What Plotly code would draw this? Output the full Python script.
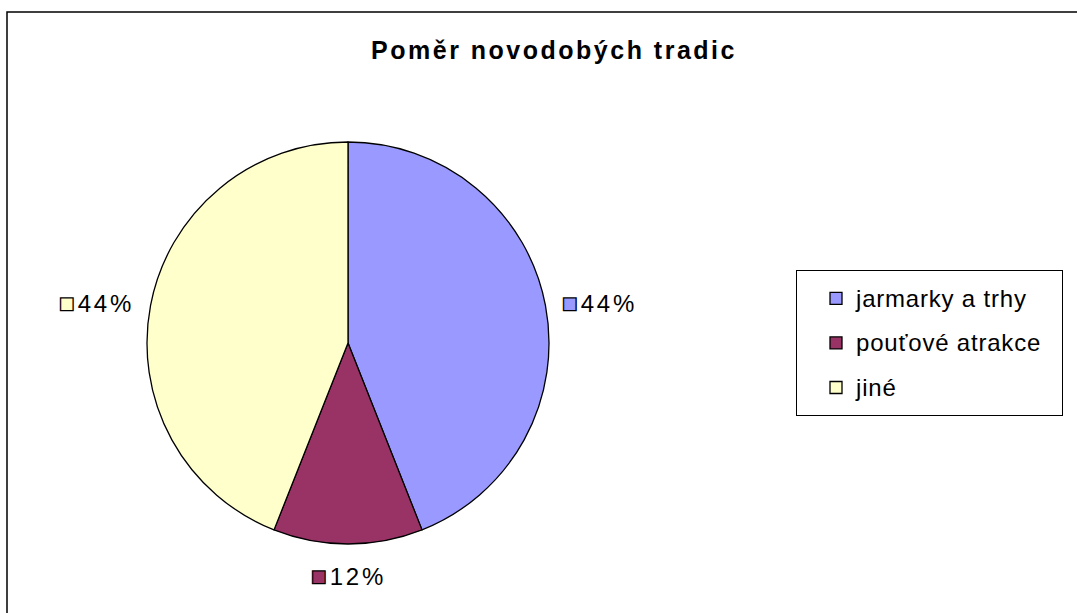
import math
import plotly.graph_objects as go

labels = ["jarmarky a trhy", "pouťové atrakce", "jiné"]
values = [11, 3, 11]
colors = ["#9999FF", "#993366", "#FFFFCC"]
title = "Poměr novodobých tradic"

W, H = 1077, 613
cx, cy, r = 348, 343, 201
FONT = "Liberation Sans, Arial"

legend_names = [f'<span style="font-size:24px;letter-spacing:0.8px;baseline-shift:4px">{n}\u00a0\u00a0</span>'
                for n in labels]

fig = go.Figure(go.Pie(
    labels=legend_names, values=values, sort=False, direction="clockwise", rotation=0,
    marker=dict(colors=colors, line=dict(color="black", width=1.3)),
    textinfo="none",
    domain=dict(x=[(cx - r) / W, (cx + r) / W], y=[1 - (cy + r) / H, 1 - (cy - r) / H]),
    hoverinfo="percent",
))

# percentage labels placed just outside each slice, at its mid-angle (derived from the values)
total = sum(values)
cum = 0
gap = 15
annotations = []
for v, c in zip(values, colors):
    theta = 2 * math.pi * (cum + v / 2) / total
    cum += v
    s, co = math.sin(theta), math.cos(theta)
    px = cx + (r + gap) * s
    py = cy - (r + gap) * co
    xanchor = "left" if s > 0.5 else ("right" if s < -0.5 else "center")
    yanchor = "top" if co < -0.5 else ("bottom" if co > 0.5 else "middle")
    pct = round(100 * v / total)
    txt = (f'<span style="fill:{c};stroke:black;stroke-width:1.3px;font-size:26px;letter-spacing:3px">■</span>'
           f'<span style="letter-spacing:2.8px">{pct}%</span>')
    annotations.append(dict(x=px / W, y=1 - py / H, xref="paper", yref="paper", text=txt,
                            showarrow=False, xanchor=xanchor, yanchor=yanchor,
                            font=dict(size=24, color="black", family=FONT)))

fig.update_layout(
    width=W, height=H, margin=dict(l=0, r=0, t=0, b=0),
    paper_bgcolor="white", plot_bgcolor="white",
    font=dict(family=FONT, color="black"),
    title=dict(text=f'<b><span style="letter-spacing:2.5px">{title}</span></b>',
               x=554 / W, xanchor="center", y=1 - 50 / H, yanchor="middle",
               font=dict(size=25, color="black", family=FONT)),
    legend=dict(x=796 / W, y=1 - 270 / H, xanchor="left", yanchor="top",
                bgcolor="white", bordercolor="black", borderwidth=1,
                font=dict(size=32, color="black", family=FONT),
                indentation=19, itemwidth=30),
    annotations=annotations,
    shapes=[dict(type="rect", xref="paper", yref="paper", x0=7 / W, x1=1.05, y0=-0.05, y1=1 - 12 / H,
                 line=dict(color="black", width=1.5), fillcolor="rgba(0,0,0,0)")],
)

fig.write_html("out.html", config={"displayModeBar": False},
               post_script="document.body.style.margin='0';")
